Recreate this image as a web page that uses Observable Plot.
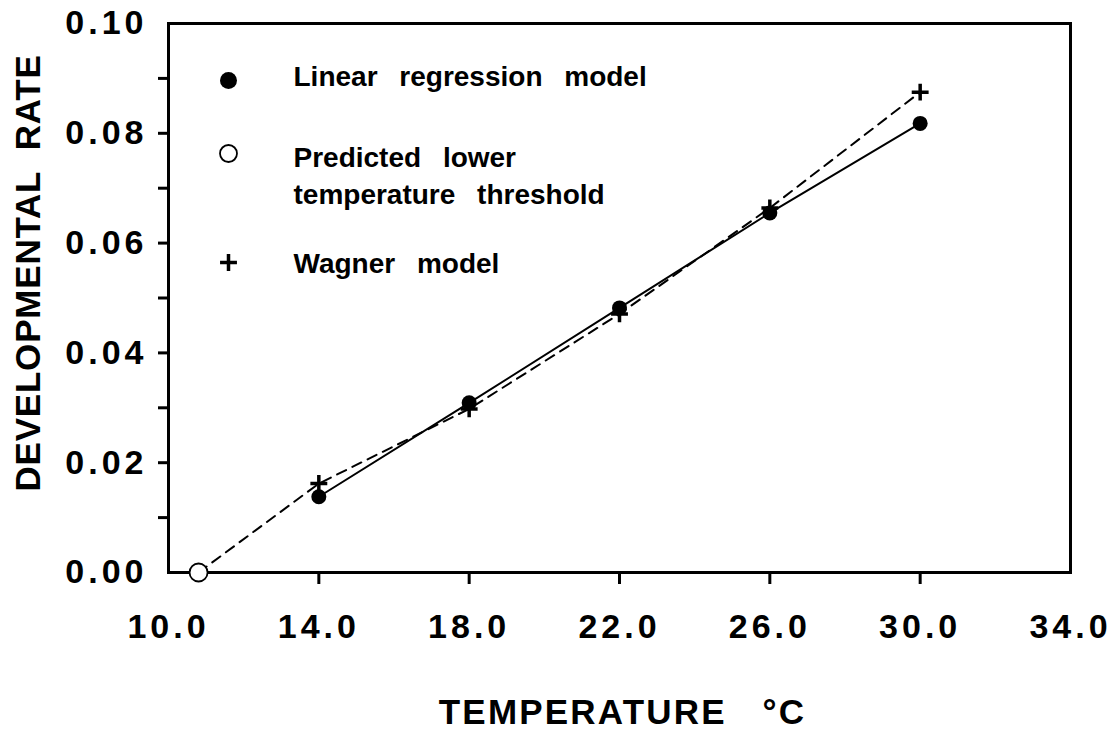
<!DOCTYPE html>
<html><head><meta charset="utf-8">
<script src="https://cdn.jsdelivr.net/npm/d3@7"></script>
<script src="https://cdn.jsdelivr.net/npm/@observablehq/plot@0.6"></script>
<style>body{margin:0;background:#fff} svg{white-space:pre}</style>
</head><body><div id="chart"></div>
<script>
// ---- data ----
const temperatures = [14, 18, 22, 26, 30];
const linearRates = [0.0138, 0.0309, 0.0482, 0.0655, 0.0818];
const wagnerRates = [0.0162, 0.0298, 0.0471, 0.0664, 0.0875];
const thresholdTemp = 10.8;
const thresholdRate = 0;
const xTickLabels = [10, 14, 18, 22, 26, 30, 34];
const xTickMarks = [14, 18, 22, 26, 30];
const yTickLabels = [0, 0.02, 0.04, 0.06, 0.08, 0.10];
const yTickMarks = [0.01, 0.02, 0.03, 0.04, 0.05, 0.06, 0.07, 0.08, 0.09];
const legendLabels = ["Linear regression model", "Predicted lower\ntemperature threshold", "Wagner model"];
const xTitle = "TEMPERATURE   °C";
const yTitle = "DEVELOPMENTAL  RATE";

// ---- derived tables ----
const linearData = temperatures.map((t, i) => ({t, r: linearRates[i]}));
const wagnerData = temperatures.map((t, i) => ({t, r: wagnerRates[i]}));
const dashedData = [{t: thresholdTemp, r: thresholdRate}, ...wagnerData];
const thresholdData = [{t: thresholdTemp, r: thresholdRate}];

const font = "'Liberation Sans', Arial, Helvetica, sans-serif";
const legendX = 60, legendTextX = 125;
const legendText = {textAnchor: "start", lineAnchor: "top", fontSize: 28, fontWeight: "bold", fill: "#000", frameAnchor: "top-left", dx: legendTextX};

const svg = Plot.plot({
  width: 1113,
  height: 736,
  marginLeft: 168,
  marginRight: 43,
  marginTop: 23,
  marginBottom: 164,
  style: {fontFamily: font, fontWeight: "bold", fontSize: "34px", color: "#000", background: "#fff"},
  x: {domain: [10, 34], label: null},
  y: {domain: [0, 0.1], label: null},
  marks: [
    Plot.axisX(xTickMarks, {tickSize: 12, strokeWidth: 3, tickFormat: () => "", label: null}),
    Plot.axisX(xTickLabels, {tickSize: 0, tickPadding: 41, dx: 0, tickFormat: d3.format(".1f"), fontSize: 34, fontWeight: "bold", label: null}),
    Plot.axisY(yTickMarks, {tickSize: 10, strokeWidth: 3, tickFormat: () => "", label: null}),
    Plot.axisY(yTickLabels, {tickSize: 0, tickPadding: 21, tickFormat: d3.format(".2f"), fontSize: 34, fontWeight: "bold", label: null}),
    Plot.frame({stroke: "#000", strokeWidth: 3}),
    Plot.line(dashedData, {x: "t", y: "r", stroke: "#000", strokeWidth: 2, strokeDasharray: "10,7"}),
    Plot.line(linearData, {x: "t", y: "r", stroke: "#000", strokeWidth: 2}),
    Plot.dot(linearData, {x: "t", y: "r", r: 7.5, fill: "#000", stroke: null}),
    Plot.dot(wagnerData, {x: "t", y: "r", symbol: "plus", r: 5.5, stroke: "#000", strokeWidth: 3.5}),
    Plot.dot(thresholdData, {x: "t", y: "r", r: 9, fill: "#fff", stroke: "#000", strokeWidth: 1.8}),
    // legend
    Plot.dot([legendLabels[0]], {frameAnchor: "top-left", dx: legendX, dy: 57, r: 8.5, fill: "#000", stroke: null}),
    Plot.dot([legendLabels[1]], {frameAnchor: "top-left", dx: legendX, dy: 130, r: 8.5, fill: "#fff", stroke: "#000", strokeWidth: 1.8}),
    Plot.dot([legendLabels[2]], {frameAnchor: "top-left", dx: legendX, dy: 239, symbol: "plus", r: 5.5, stroke: "#000", strokeWidth: 3.5}),
    Plot.text([legendLabels[0]], {...legendText, text: d => d, dy: 43}),
    Plot.text([legendLabels[1]], {...legendText, text: d => d, dy: 117, lineHeight: 1.32}),
    Plot.text([legendLabels[2]], {...legendText, text: d => d, dy: 230}),
    // axis titles
    Plot.text([xTitle], {text: d => d, frameAnchor: "bottom", dx: 3, dy: 151, fontSize: 35, fontWeight: "bold", fill: "#000"}),
    Plot.text([yTitle], {text: d => d, frameAnchor: "left", textAnchor: "middle", dx: -140, dy: -25, rotate: -90, fontSize: 35, fontWeight: "bold", fill: "#000"})
  ]
});

const s = d3.select(svg);
const legendSet = new Set(legendLabels.flatMap(l => l.split("\n")));
s.selectAll("text").each(function() {
  const el = d3.select(this);
  const t = this.textContent;
  if (/^\d+\.\d+$/.test(t)) el.attr("letter-spacing", "4px");
  else if (t === xTitle) el.attr("letter-spacing", "2.2px");
  else if (t === yTitle) el.attr("letter-spacing", "0.8px");
  else if (legendSet.has(t) || legendLabels.includes(t) || legendLabels[1].replace("\n", "") === t) el.attr("word-spacing", "14px");
});
s.selectAll("tspan").each(function() {
  if (legendSet.has(this.textContent)) d3.select(this).attr("word-spacing", "14px");
});
document.getElementById("chart").appendChild(svg);
</script>
</body></html>
